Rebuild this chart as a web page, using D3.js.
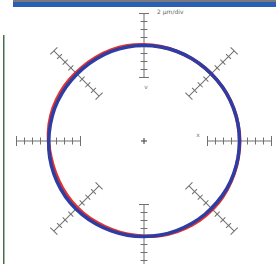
<!DOCTYPE html>
<html>
<head>
<meta charset="utf-8">
<script src="https://cdn.jsdelivr.net/npm/d3@7"></script>
<style>
  body { margin: 0; background: #fff; }
  svg { display: block; font-family: "DejaVu Sans", sans-serif; }
</style>
</head>
<body>
<div id="chart"></div>
<script>
// measurement angles, degrees counter-clockwise from 3 o'clock
const angles = [0, 10, 20, 30, 40, 50, 60, 70, 80, 90, 100, 110, 120, 130, 140, 150, 160, 170,
                180, 190, 200, 210, 220, 230, 240, 250, 260, 270, 280, 290, 300, 310, 320, 330, 340, 350];
// radial deviation from the reference circle, µm
const redDev = [0.05, 0.0, 0.0, -0.05, -0.1, -0.1, -0.05, 0.0, 0.1, 0.2, 0.3, 0.3, 0.25, 0.2, 0.25, 0.3, 0.3, 0.2,
                0.0, -0.25, -0.35, -0.35, -0.3, -0.3, -0.35, -0.3, -0.2, -0.05, 0.1, 0.2, 0.3, 0.3, 0.3, 0.2, 0.1, 0.05];
const blueDev = [0.0, 0.0, -0.05, -0.05, -0.1, -0.1, -0.05, 0.0, 0.0, 0.0, 0.0, -0.05, -0.15, -0.2, -0.2, -0.15, -0.1, -0.1,
                 -0.05, 0.05, 0.1, 0.15, 0.2, 0.15, 0.1, 0.05, 0.05, 0.0, 0.0, -0.05, -0.05, -0.05, -0.05, 0.0, 0.0, 0.0];
// scale bar directions and their range (µm)
const scaleAngles = [0, 45, 90, 135, 180, 225, 270, 315];
const scaleDomain = [-8, 8];
const scaleLabel = "2 µm/div";

const width = 276, height = 264;
const cx = 144, cy = 141, r0 = 95.5;

const svg = d3.select("#chart").append("svg")
    .attr("width", width)
    .attr("height", height);

// header strip
svg.append("rect").attr("x", 13).attr("y", 0).attr("width", width - 13).attr("height", 2).attr("fill", "#7a7a7a");
svg.append("rect").attr("x", 13).attr("y", 2).attr("width", width - 13).attr("height", 5).attr("fill", "#2b5fb3");

// left frame line
svg.append("rect").attr("x", 3).attr("y", 35).attr("width", 1.5).attr("height", height - 35).attr("fill", "#46704c");

const g = svg.append("g").attr("transform", `translate(${cx},${cy})`);

// radial scale: deviation in µm -> radius in px
const r = d3.scaleLinear().domain(scaleDomain).range([r0 - 32, r0 + 32]);
const ticks = r.ticks(8);

// scale bars
const bars = g.selectAll(".bar")
    .data(scaleAngles)
    .enter().append("g")
    .attr("class", "bar")
    .attr("transform", d => `rotate(${-d})`)
    .attr("stroke", "#707070")
    .attr("stroke-width", 1);

bars.append("line")
    .attr("x1", r(scaleDomain[0])).attr("x2", r(scaleDomain[1]))
    .attr("y1", 0).attr("y2", 0);

bars.selectAll(".tick")
    .data(ticks)
    .enter().append("line")
    .attr("class", "tick")
    .attr("x1", d => r(d)).attr("x2", d => r(d))
    .attr("y1", d => (d === scaleDomain[0] || d === scaleDomain[1]) ? -5 : -3.5)
    .attr("y2", d => (d === scaleDomain[0] || d === scaleDomain[1]) ? 5 : 3.5);

// profile traces
const line = d3.lineRadial()
    .angle(d => Math.PI / 2 - d[0] * Math.PI / 180)
    .radius(d => r(d[1]))
    .curve(d3.curveCatmullRomClosed);

g.append("path")
    .attr("d", line(angles.map((a, i) => [a, redDev[i]])))
    .attr("fill", "none")
    .attr("stroke", "#e5332e")
    .attr("stroke-width", 3.5);

g.append("path")
    .attr("d", line(angles.map((a, i) => [a, blueDev[i]])))
    .attr("fill", "none")
    .attr("stroke", "#2e3da3")
    .attr("stroke-width", 3.5);

// centre mark
g.append("line").attr("x1", -3).attr("x2", 3).attr("y1", 0).attr("y2", 0).attr("stroke", "#555").attr("stroke-width", 1.2);
g.append("line").attr("x1", 0).attr("x2", 0).attr("y1", -3).attr("y2", 3).attr("stroke", "#555").attr("stroke-width", 1.2);

// labels
svg.append("text").attr("x", 157).attr("y", 14)
    .attr("font-size", "6px").attr("fill", "#666").text(scaleLabel);
svg.append("text").attr("x", 146).attr("y", 89).attr("text-anchor", "middle")
    .attr("font-size", "6px").attr("fill", "#777").text("v");
svg.append("text").attr("x", 198).attr("y", 137).attr("text-anchor", "middle")
    .attr("font-size", "6px").attr("fill", "#777").text("x");
</script>
</body>
</html>
